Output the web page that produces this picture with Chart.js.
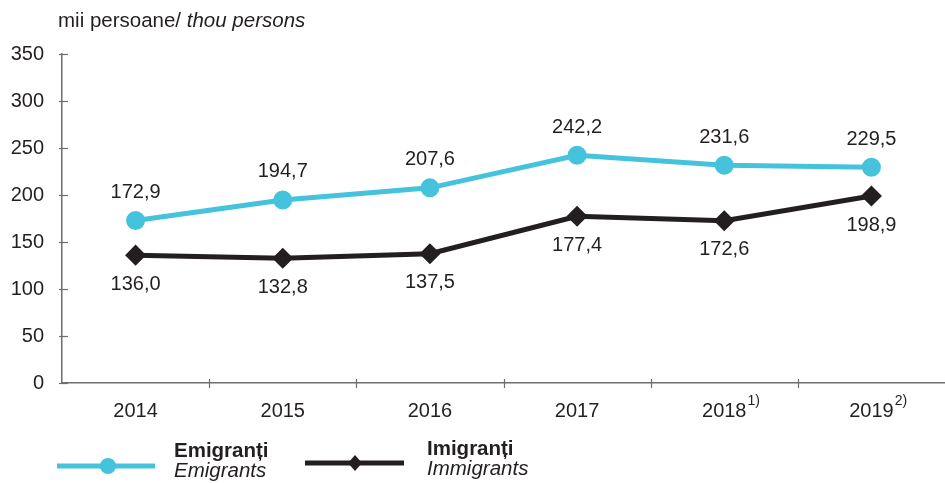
<!DOCTYPE html>
<html lang="ro">
<head>
<meta charset="UTF-8">
<title>Emigranți / Imigranți</title>
<script src="https://cdn.jsdelivr.net/npm/chart.js"></script>
<style>
  html, body { margin: 0; padding: 0; background: #fff; }
  #wrap { position: relative; width: 945px; height: 483px; }
</style>
</head>
<body>
<div id="wrap"><canvas id="chart" width="945" height="483"></canvas></div>
<script>
// data
const years = ['2014', '2015', '2016', '2017', '2018', '2019'];
const yearNotes = ['', '', '', '', '1)', '2)'];
const emigrants = [172.9, 194.7, 207.6, 242.2, 231.6, 229.5];
const immigrants = [136.0, 132.8, 137.5, 177.4, 172.6, 198.9];
const yTicks = [0, 50, 100, 150, 200, 250, 300, 350];

const FONT = '"Liberation Sans", Arial, Helvetica, sans-serif';
const TXT = '#231f20';
const CYAN = '#45c3dc';
const AXIS = '#6d6e70';

const fmt = v => v.toFixed(1).replace('.', ',');

// value labels, axis tick marks, x labels with footnotes, title and legend
const extras = {
  id: 'extras',
  afterDraw(chart) {
    const ctx = chart.ctx;
    const xs = chart.scales.x, ys = chart.scales.y;
    const area = chart.chartArea;
    ctx.save();

    // tick marks crossing the axes
    ctx.strokeStyle = AXIS;
    ctx.lineWidth = 1.2;
    yTicks.forEach(t => {
      const y = Math.round(ys.getPixelForValue(t)) + 0.5;
      ctx.beginPath(); ctx.moveTo(area.left - 3, y); ctx.lineTo(area.left + 6, y); ctx.stroke();
    });
    for (let i = 1; i < years.length; i++) {
      const x = Math.round((xs.getPixelForValue(i - 1) + xs.getPixelForValue(i)) / 2) + 0.5;
      ctx.beginPath(); ctx.moveTo(x, area.bottom - 4); ctx.lineTo(x, area.bottom + 5); ctx.stroke();
    }

    // x labels
    ctx.fillStyle = TXT;
    ctx.textBaseline = 'middle';
    years.forEach((yr, i) => {
      const x = xs.getPixelForValue(i);
      ctx.font = '20px ' + FONT;
      ctx.textAlign = 'center';
      ctx.fillText(yr, x, 411);
      if (yearNotes[i]) {
        const w = ctx.measureText(yr).width;
        ctx.font = '14px ' + FONT;
        ctx.textAlign = 'left';
        ctx.fillText(yearNotes[i], x + w / 2 + 1, 401);
      }
    });

    // value labels
    ctx.font = '20px ' + FONT;
    ctx.textAlign = 'center';
    emigrants.forEach((v, i) => {
      ctx.fillText(fmt(v), xs.getPixelForValue(i), ys.getPixelForValue(v) - 28);
    });
    immigrants.forEach((v, i) => {
      ctx.fillText(fmt(v), xs.getPixelForValue(i), ys.getPixelForValue(v) + 29);
    });

    // title
    ctx.textAlign = 'left';
    ctx.font = '20.5px ' + FONT;
    const t1 = 'mii persoane/ ';
    ctx.fillText(t1, 58, 21);
    const w1 = ctx.measureText(t1).width;
    ctx.font = 'italic 20.5px ' + FONT;
    ctx.fillText('thou persons', 58 + w1, 21);

    // legend
    ctx.lineWidth = 5;
    ctx.strokeStyle = CYAN;
    ctx.beginPath(); ctx.moveTo(57, 466); ctx.lineTo(155, 466); ctx.stroke();
    ctx.fillStyle = CYAN;
    ctx.beginPath(); ctx.arc(108, 466, 8, 0, Math.PI * 2); ctx.fill();

    ctx.strokeStyle = TXT;
    ctx.beginPath(); ctx.moveTo(305, 463); ctx.lineTo(404, 463); ctx.stroke();
    ctx.fillStyle = TXT;
    ctx.beginPath();
    ctx.moveTo(355, 455); ctx.lineTo(362, 463); ctx.lineTo(355, 471); ctx.lineTo(348, 463);
    ctx.closePath(); ctx.fill();

    ctx.fillStyle = TXT;
    ctx.textBaseline = 'alphabetic';
    ctx.font = 'bold 20.5px ' + FONT;
    ctx.fillText('Emigranți', 174, 457);
    ctx.fillText('Imigranți', 427, 455);
    ctx.font = 'italic 20.5px ' + FONT;
    ctx.fillText('Emigrants', 174, 477);
    ctx.fillText('Immigrants', 427, 475);

    ctx.restore();
  }
};

new Chart(document.getElementById('chart'), {
  type: 'line',
  data: {
    labels: years,
    datasets: [
      {
        label: 'Emigranți / Emigrants',
        data: emigrants,
        borderColor: CYAN,
        backgroundColor: CYAN,
        borderWidth: 5,
        pointStyle: 'circle',
        pointRadius: 7,
        pointHoverRadius: 7,
        tension: 0
      },
      {
        label: 'Imigranți / Immigrants',
        data: immigrants,
        borderColor: TXT,
        backgroundColor: TXT,
        borderWidth: 5,
        pointStyle: 'rectRot',
        pointRadius: 7,
        pointHoverRadius: 7,
        tension: 0
      }
    ]
  },
  options: {
    responsive: false,
    animation: false,
    events: [],
    layout: { autoPadding: false, padding: { top: 54, right: -4, left: 0, bottom: 0 } },
    plugins: { legend: { display: false }, tooltip: { enabled: false } },
    scales: {
      x: {
        offset: true,
        grid: { display: false, drawTicks: false },
        border: { display: true, color: AXIS, width: 1.5 },
        ticks: { display: false },
        afterFit(s) { s.height = 100; s.paddingLeft = 0; s.paddingRight = 0; }
      },
      y: {
        min: 0,
        max: 350,
        afterBuildTicks(s) { s.ticks = yTicks.map(v => ({ value: v })); },
        grid: { display: false, drawTicks: false },
        border: { display: true, color: AXIS, width: 1.5 },
        ticks: {
          color: TXT,
          padding: 18,
          font: { family: FONT, size: 20 }
        },
        afterFit(s) { s.width = 62; }
      }
    }
  },
  plugins: [extras]
});
</script>
</body>
</html>
